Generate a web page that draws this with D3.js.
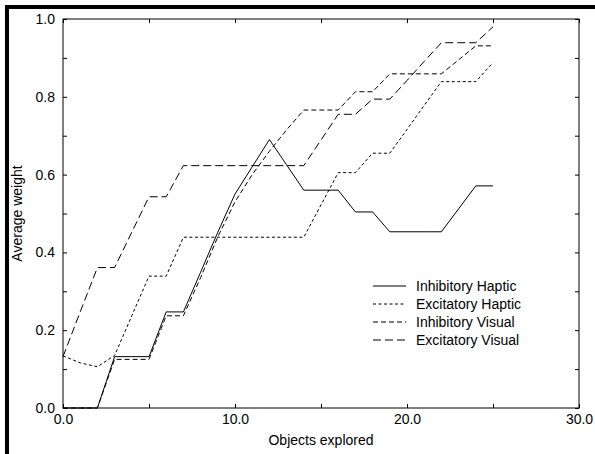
<!DOCTYPE html>
<html>
<head>
<meta charset="utf-8">
<script src="https://cdn.jsdelivr.net/npm/d3@7"></script>
<style>
  body { margin: 0; background: #fff; }
  svg text { font-family: "Liberation Sans", Arial, sans-serif; font-size: 14px; fill: #000; }
  .axis path.domain { display: none; }
  .axis line { stroke: #000; }
</style>
</head>
<body>
<div id="chart"></div>
<script>
// data, one value per object explored (0..25)
const objects = d3.range(0, 26);

const inhibitoryHaptic = [0, 0, 0, 0.132, 0.132, 0.132, 0.247, 0.247, 0.349, 0.452, 0.55, 0.62, 0.69,
  0.625, 0.56, 0.56, 0.56, 0.504, 0.504, 0.453, 0.453, 0.453, 0.453, 0.512, 0.571, 0.571];

const excitatoryHaptic = [0.134, 0.116, 0.106, 0.135, 0.237, 0.339, 0.339, 0.439, 0.439, 0.439, 0.439,
  0.439, 0.439, 0.439, 0.439, 0.522, 0.605, 0.605, 0.655, 0.655, 0.716, 0.778, 0.839, 0.839, 0.839, 0.888];

const inhibitoryVisual = [0, 0, 0, 0.125, 0.125, 0.125, 0.237, 0.237, 0.335, 0.44, 0.53, 0.60, 0.66,
  0.715, 0.766, 0.766, 0.766, 0.813, 0.813, 0.859, 0.859, 0.859, 0.859, 0.895, 0.931, 0.931];

const excitatoryVisual = [0.132, 0.247, 0.361, 0.361, 0.452, 0.543, 0.543, 0.623, 0.623, 0.623, 0.623,
  0.623, 0.623, 0.623, 0.623, 0.689, 0.755, 0.755, 0.794, 0.794, 0.842, 0.891, 0.939, 0.939, 0.939, 0.98];

const seriesNames = ["Inhibitory Haptic", "Excitatory Haptic", "Inhibitory Visual", "Excitatory Visual"];
const xTicks = [0, 5, 10, 15, 20, 25, 30];
const yTicks = [0, 0.1, 0.2, 0.3, 0.4, 0.5, 0.6, 0.7, 0.8, 0.9, 1.0];

(function(){

  const W = 595, H = 454;
  const margin = {top: 19, right: 16, bottom: 46, left: 63};

  const svg = d3.select("#chart")
    .append("svg")
    .attr("width", W)
    .attr("height", H);

  const x = d3.scaleLinear().domain([0, 30]).range([margin.left, W - margin.right]);
  const y = d3.scaleLinear().domain([0, 1]).range([H - margin.bottom, margin.top]);

  // thick frame on the top and left of the page
  svg.append("path")
    .attr("d", "M7," + H + "V7H" + W)
    .attr("fill", "none")
    .attr("stroke", "#000")
    .attr("stroke-width", 4);

  const dashes = [null, "3,2.5", "5,3", "8,4"];
  const series = [inhibitoryHaptic, excitatoryHaptic, inhibitoryVisual, excitatoryVisual].map(function(vals, i) {
    return {
      name: seriesNames[i],
      dash: dashes[i],
      values: vals.map(function(v, j) { return {x: objects[j], y: v}; })
    };
  });

  const line = d3.line()
    .x(function(d) { return x(d.x); })
    .y(function(d) { return y(d.y); });

  svg.selectAll(".series")
    .data(series)
    .enter()
    .append("path")
    .attr("class", "series")
    .attr("d", function(d) { return line(d.values); })
    .attr("fill", "none")
    .attr("stroke", "#000")
    .attr("stroke-width", 1)
    .attr("stroke-dasharray", function(d) { return d.dash; });

  const xLabel = function(d) { return d % 10 === 0 ? d3.format(".1f")(d) : ""; };
  const yLabel = function(d) { return Math.round(d * 10) % 2 === 0 ? d3.format(".1f")(d) : ""; };

  svg.append("g")
    .attr("class", "axis")
    .attr("transform", "translate(0," + y(0) + ")")
    .call(d3.axisBottom(x).tickValues(xTicks).tickFormat(xLabel).tickSizeInner(-4).tickSizeOuter(0).tickPadding(6));

  svg.append("g")
    .attr("class", "axis")
    .attr("transform", "translate(0," + y(1) + ")")
    .call(d3.axisTop(x).tickValues(xTicks).tickFormat("").tickSizeInner(-4).tickSizeOuter(0));

  svg.append("g")
    .attr("class", "axis")
    .attr("transform", "translate(" + x(0) + ",0)")
    .call(d3.axisLeft(y).tickValues(yTicks).tickFormat(yLabel).tickSizeInner(-4).tickSizeOuter(0).tickPadding(8));

  svg.append("g")
    .attr("class", "axis")
    .attr("transform", "translate(" + x(30) + ",0)")
    .call(d3.axisRight(y).tickValues(yTicks).tickFormat("").tickSizeInner(-4).tickSizeOuter(0));

  svg.selectAll(".axis text")
    .attr("font-family", null)
    .attr("font-size", null);

  // plot frame
  svg.append("rect")
    .attr("x", x(0))
    .attr("y", y(1))
    .attr("width", x(30) - x(0))
    .attr("height", y(0) - y(1))
    .attr("fill", "none")
    .attr("stroke", "#000")
    .attr("stroke-width", 1);

  svg.append("text")
    .attr("x", (x(0) + x(30)) / 2)
    .attr("y", 445)
    .attr("text-anchor", "middle")
    .text("Objects explored");

  svg.append("text")
    .attr("transform", "translate(22," + (y(0) + y(1)) / 2 + ") rotate(-90)")
    .attr("text-anchor", "middle")
    .text("Average weight");

  const legend = svg.selectAll(".legend")
    .data(series)
    .enter()
    .append("g")
    .attr("class", "legend")
    .attr("transform", function(d, i) { return "translate(373," + (286 + i * 18) + ")"; });

  legend.append("line")
    .attr("x1", 0)
    .attr("x2", 33)
    .attr("y1", 0)
    .attr("y2", 0)
    .attr("stroke", "#000")
    .attr("stroke-width", 1)
    .attr("stroke-dasharray", function(d) { return d.dash; });

  legend.append("text")
    .attr("x", 43)
    .attr("y", 5)
    .text(function(d) { return d.name; });

})();
</script>
</body>
</html>
